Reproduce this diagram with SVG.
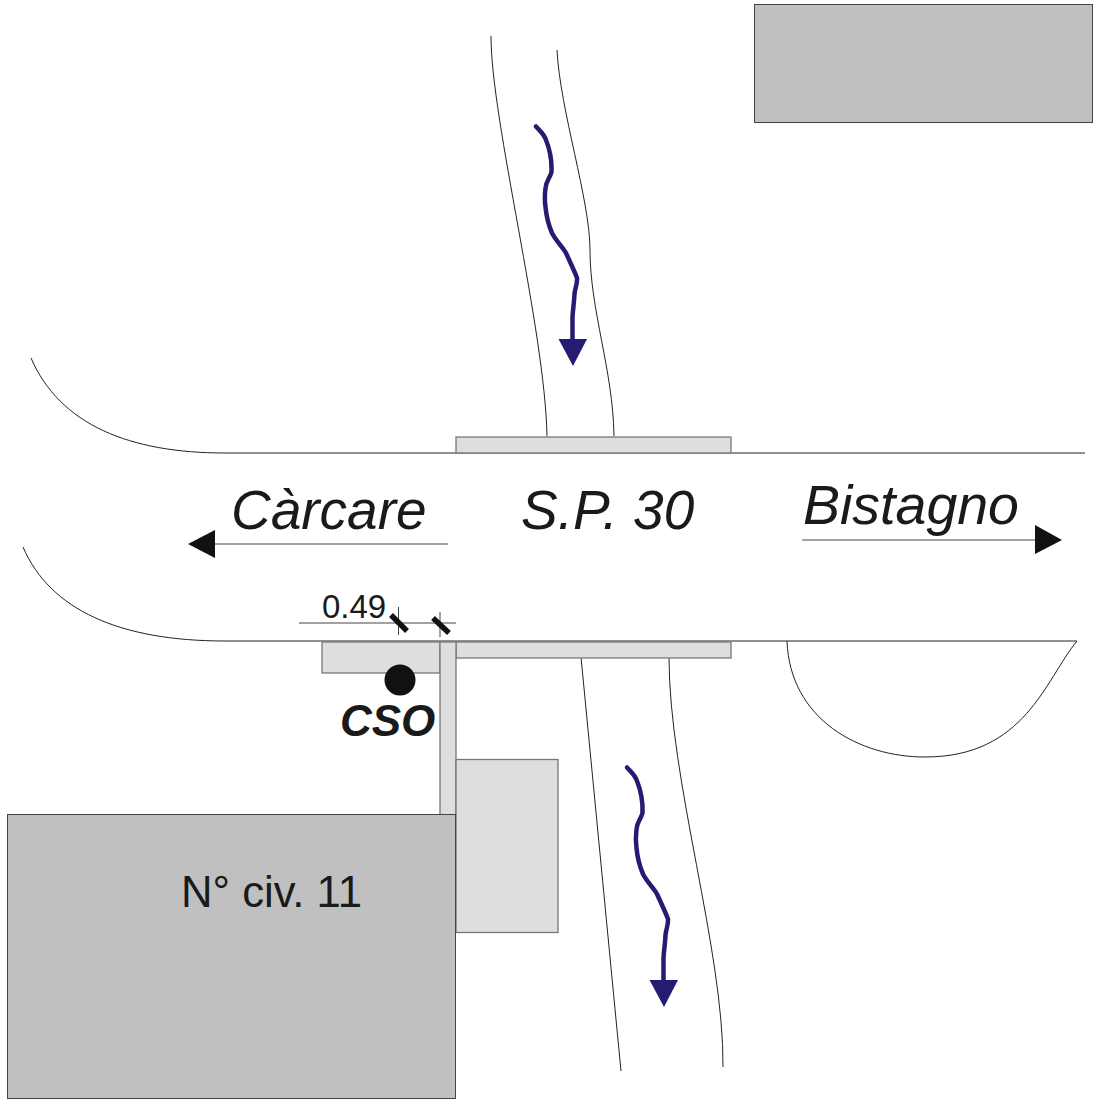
<svg xmlns="http://www.w3.org/2000/svg" width="1105" height="1105" viewBox="0 0 1105 1105">
<style>
.road{fill:none;stroke:#222;stroke-width:1}
.thin{fill:none;stroke:#444;stroke-width:1}
.bld{fill:#c0c0c0;stroke:#444;stroke-width:1}
.lite{fill:#dedede;stroke:#777;stroke-width:1.3}
.flow{fill:none;stroke:#241c72;stroke-width:4.500;stroke-linejoin:round;stroke-linecap:round}
.flowhead{fill:#241c72}
.t{font-family:"Liberation Sans",Arial,sans-serif;fill:#1a1a1a}
.i{font-style:italic;font-size:55px}
.tick{stroke:#111;stroke-width:5.500}
</style>
<defs>
<g id="flow">
<path class="flow" d="M536 126.500C540 131 544 134 546 140C550 150 552 160 551.500 172C550 178 546 181 545.500 188C544.500 196 544.500 200 545.500 207C546.500 218 549 226 552 233C556 241 562 246 566 253C570 262 574 270 577 278C577.500 284 575 288 574.500 294C574 304 573 308 572.500 317V340"/>
<path class="flowhead" d="M558.500 339H587L573 366Z"/>
</g>
</defs>
<rect width="1105" height="1105" fill="#fff"/>
<g id="connectors">
<path class="road" d="M31 358C60 425 130 453 225 453H1085"/>
<path class="road" d="M23 547C50 610 120 641 225 641H1077C1045 680 1025 757 925 757C860 757 790 720 787 641"/>
<path class="road" d="M491 36C491 120 545 330 547 436"/>
<path class="road" d="M557 50C560 110 590 200 590 250C590 310 613 370 614 436"/>
<path class="road" d="M581 657L621 1071"/>
<path class="road" d="M669 657C669 780 724 950 723 1067"/>
<path class="thin" d="M802 540H1036M448 544H215M299 623H456M398.500 607V635M440 612V637"/>
<path d="M1035 525L1062 540L1035 554Z" fill="#111"/>
<path d="M215 530L188 544L215 558Z" fill="#111"/>
<path class="tick" d="M391 615L407 631M433 618L449 633"/>
<use href="#flow"/>
<use href="#flow" x="91" y="641"/>
</g>
<g id="building-top"><rect class="bld" x="754.500" y="4.500" width="338" height="118"/></g>
<g id="bridge-top"><rect class="lite" x="456" y="437" width="275" height="16"/></g>
<g id="bridge-bottom"><rect class="lite" x="456" y="642" width="275" height="16"/></g>
<g id="forecourt"><rect class="lite" x="322" y="642" width="118" height="31"/></g>
<g id="wall"><rect class="lite" x="440" y="642" width="16" height="175"/></g>
<g id="annex"><rect class="lite" x="456" y="759.500" width="102" height="173"/></g>
<g id="building-11"><rect class="bld" x="7.500" y="814.500" width="448" height="284"/>
<text class="t" x="181" y="907" font-size="43.700">N° civ. 11</text></g>
<g id="cso"><circle cx="400" cy="680" r="15.500" fill="#111"/>
<text class="t" x="340" y="736" font-size="44" font-weight="bold" font-style="italic">CSO</text></g>
<g id="labels">
<text class="t i" x="231" y="529">Càrcare</text>
<text class="t i" x="521" y="529">S.P. 30</text>
<text class="t i" x="803" y="524" font-size="55.500" style="font-size:55.500px">Bistagno</text>
<text class="t" x="322" y="618" font-size="33">0.49</text>
</g>
</svg>
